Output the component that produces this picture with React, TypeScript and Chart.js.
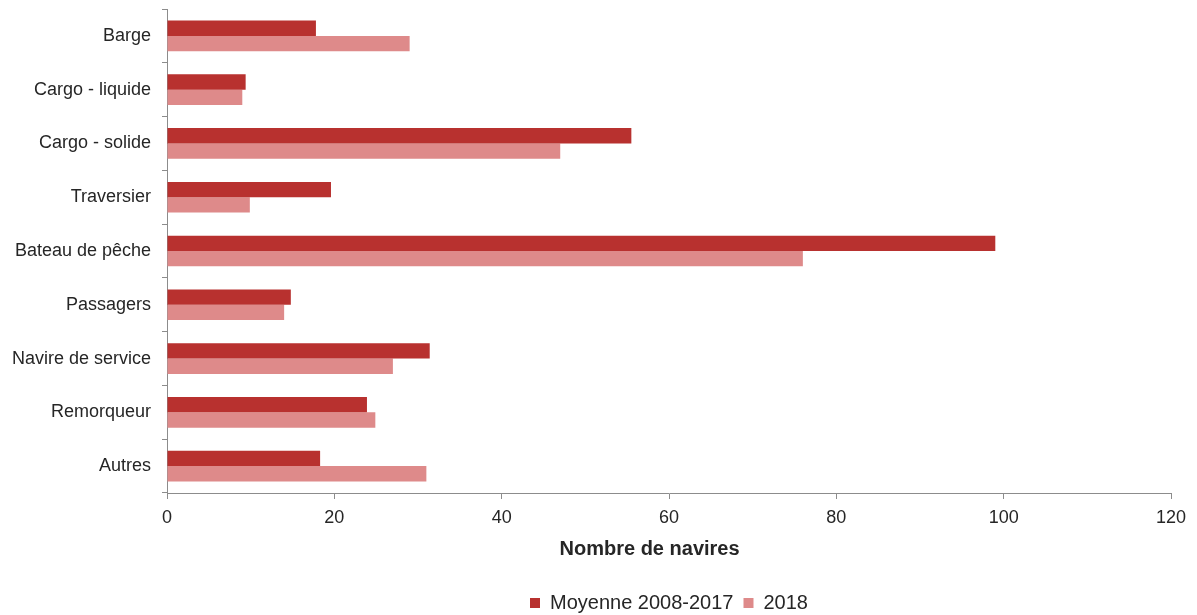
import React, { useEffect, useRef } from "react";
import { Chart, registerables } from "chart.js";

Chart.register(...registerables);

const categories = [
  "Barge",
  "Cargo - liquide",
  "Cargo - solide",
  "Traversier",
  "Bateau de pêche",
  "Passagers",
  "Navire de service",
  "Remorqueur",
  "Autres",
];
const moyenneLabel = "Moyenne 2008-2017";
const moyenne = [17.8, 9.4, 55.5, 19.6, 99, 14.8, 31.4, 23.9, 18.3];
const label2018 = "2018";
const values2018 = [29, 9.0, 47, 9.9, 76, 14, 27, 24.9, 31];
const xTitle = "Nombre de navires";
const xMin = 0;
const xMax = 120;
const xStep = 20;

const FONT = "'Liberation Sans', Arial, sans-serif";
const TEXT = "#262626";
const AXIS = "#8c8c8c";

export default function App() {
  const ref = useRef<HTMLCanvasElement | null>(null);
  useEffect(() => {
    if (!ref.current) return;
    const chart = new Chart(ref.current, {
      type: "bar",
      data: {
        labels: categories,
        datasets: [
          {
            label: moyenneLabel,
            data: moyenne,
            backgroundColor: "#b8312f",
            borderWidth: 0,
            categoryPercentage: 0.57,
            barPercentage: 1.0,
          },
          {
            label: label2018,
            data: values2018,
            backgroundColor: "#de8a8a",
            borderWidth: 0,
            categoryPercentage: 0.57,
            barPercentage: 1.0,
          },
        ],
      },
      options: {
        indexAxis: "y",
        animation: false,
        responsive: true,
        maintainAspectRatio: false,
        layout: { padding: { top: 9, right: 26, bottom: -8, left: 0 } },
        plugins: {
          tooltip: { enabled: false },
          legend: {
            position: "bottom",
            fullSize: false,
            labels: {
              boxWidth: 10,
              boxHeight: 10,
              padding: 10,
              color: TEXT,
              font: { family: FONT, size: 20 },
            },
          },
        },
        scales: {
          x: {
            min: xMin,
            max: xMax,
            ticks: {
              stepSize: xStep,
              color: TEXT,
              font: { family: FONT, size: 18 },
              padding: 8,
            },
            grid: {
              drawOnChartArea: false,
              drawTicks: true,
              tickLength: 6,
              color: AXIS,
            },
            border: { color: AXIS, width: 1 },
            title: {
              display: true,
              text: xTitle + "\u00a0".repeat(7),
              color: TEXT,
              font: { family: FONT, size: 20, weight: "bold" },
              padding: { top: 0, bottom: 22 },
            },
            afterFit: (scale: any) => {
              scale.height = 90;
            },
          },
          y: {
            ticks: {
              color: TEXT,
              font: { family: FONT, size: 18 },
              padding: 11,
            },
            grid: {
              drawOnChartArea: false,
              drawTicks: true,
              tickLength: 5,
              color: AXIS,
            },
            border: { color: AXIS, width: 1 },
            afterFit: (scale: any) => {
              scale.width = 167;
              scale.paddingTop = 0;
              scale.paddingBottom = 0;
            },
          },
        },
      },
    });
    return () => chart.destroy();
  }, []);
  return (
    <div style={{ position: "absolute", left: 0, top: 0, width: 1197, height: 615, background: "#fff" }}>
      <canvas ref={ref} />
    </div>
  );
}
